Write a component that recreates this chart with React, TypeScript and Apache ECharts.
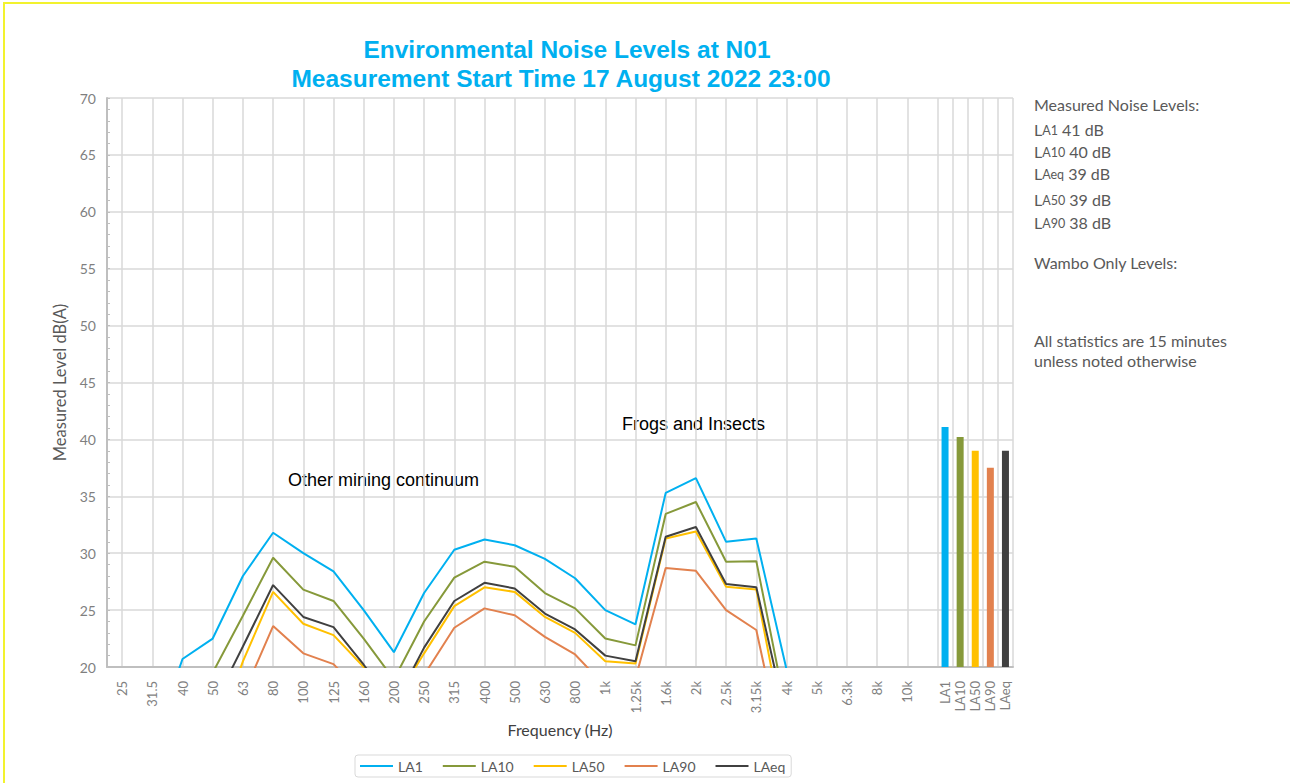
import React, { useEffect, useRef } from "react";
import * as echarts from "echarts";

// ---- data ----
const freqLabels = ["25", "31.5", "40", "50", "63", "80", "100", "125", "160", "200", "250", "315", "400", "500", "630", "800", "1k", "1.25k", "1.6k", "2k", "2.5k", "3.15k", "4k", "5k", "6.3k", "8k", "10k"];
const la1 = [10, 13, 20.7, 22.5, 28.0, 31.8, 30.0, 28.4, 25.0, 21.3, 26.5, 30.3, 31.2, 30.7, 29.5, 27.8, 25.0, 23.75, 35.3, 36.6, 31.0, 31.3, 19.8, 16, 14, 12, 10];
const la10 = [8, 10, 14, 19.5, 24.5, 29.6, 26.8, 25.8, 22.5, 18.9, 24.0, 27.85, 29.25, 28.8, 26.5, 25.15, 22.5, 21.9, 33.45, 34.5, 29.25, 29.3, 16, 14, 12, 10, 8];
const la50 = [5, 7, 9, 13, 20.5, 26.6, 23.8, 22.8, 20.0, 16.9, 21.2, 25.35, 27.0, 26.6, 24.4, 23.0, 20.5, 20.3, 31.3, 31.9, 27.05, 26.8, 13, 11, 9, 7, 5];
const la90 = [3, 5, 7, 11, 17.5, 23.6, 21.2, 20.25, 17.5, 15, 19.3, 23.45, 25.15, 24.55, 22.65, 21.1, 18.3, 19.0, 28.7, 28.45, 25.0, 23.25, 11, 9, 7, 5, 3];
const laeq = [6, 8, 11, 16.5, 21.8, 27.2, 24.4, 23.5, 20.2, 16.6, 21.7, 25.8, 27.4, 26.9, 24.7, 23.3, 21.0, 20.5, 31.45, 32.3, 27.3, 27.0, 15.3, 13, 11, 9, 7];

const barLabels = ["LA1", "LA10", "LA50", "LA90", "LAeq"];
const barValues = [41.1, 40.2, 39.0, 37.5, 39.0];

const seriesNames = ["LA1", "LA10", "LA50", "LA90", "LAeq"];
const colors = ["#00B0F0", "#86993A", "#FFC000", "#E2814E", "#404040"];

const measured = [
  { sub: "A1", val: "41 dB" },
  { sub: "A10", val: "40 dB" },
  { sub: "Aeq", val: "39 dB" },
  { sub: "A50", val: "39 dB" },
  { sub: "A90", val: "38 dB" },
];

const titleLines = ["Environmental Noise Levels at N01", "Measurement Start Time 17 August 2022 23:00"];

const Y_MIN = 20;
const Y_MAX = 70;
const Y_INTERVAL = 5;

const FONT = "Lato, 'Open Sans', sans-serif";
const ARIAL = "'Liberation Sans', Arial, sans-serif";

export default function App() {
  const ref = useRef<HTMLDivElement>(null);

  useEffect(() => {
    if (!ref.current) return;
    const chart = echarts.init(ref.current, null, { renderer: "svg" });

    const fineSlots = 2 * (freqLabels.length + 3); // 60 half-width slots
    const fineCats: string[] = [];
    for (let i = 0; i < fineSlots - barLabels.length; i++) fineCats.push("");
    barLabels.forEach((b) => fineCats.push(b));
    const firstBar = fineSlots - barLabels.length;
    const lastFreqBoundary = 2 * freqLabels.length - 1;

    const coarseCats = freqLabels.concat(["", "", ""]);

    const barData: any[] = [];
    for (let i = 0; i < firstBar; i++) barData.push(null);
    barValues.forEach((v, i) => barData.push({ value: v, itemStyle: { color: colors[i] } }));

    const lineData = [la1, la10, la50, la90, laeq];

    const grey = "#595959";
    const noteX = 1034;
    const noteFont = `16px ${FONT}`;
    const notes: any[] = [
      {
        type: "text",
        x: noteX,
        y: 104,
        style: { text: "Measured Noise Levels:", fill: grey, font: noteFont, textVerticalAlign: "middle" },
      },
    ];
    const noteYs = [127, 149, 171, 197, 220];
    measured.forEach((m, i) => {
      notes.push({
        type: "text",
        x: noteX,
        y: noteYs[i] - 11,
        style: {
          text: `{m|L}{s|${m.sub}}{m| ${m.val}}`,
          fill: grey,
          rich: {
            m: { fontSize: 16, fontFamily: FONT, fill: grey, lineHeight: 21, verticalAlign: "bottom" },
            s: { fontSize: 12.5, fontFamily: FONT, fill: grey, lineHeight: 14, verticalAlign: "bottom" },
          },
        },
      });
    });
    notes.push(
      { type: "text", x: noteX, y: 262, style: { text: "Wambo Only Levels:", fill: grey, font: noteFont, textVerticalAlign: "middle" } },
      { type: "text", x: noteX, y: 340, style: { text: "All statistics are 15 minutes", fill: grey, font: noteFont, textVerticalAlign: "middle" } },
      { type: "text", x: noteX, y: 360, style: { text: "unless noted otherwise", fill: grey, font: noteFont, textVerticalAlign: "middle" } }
    );

    const option: any = {
      animation: false,
      backgroundColor: "#ffffff",
      grid: { left: 107, right: 277, top: 98, bottom: 116, containLabel: false },
      legend: {
        data: seriesNames,
        left: 355,
        top: 755,
        icon: "rect",
        itemWidth: 33,
        itemHeight: 2,
        itemGap: 20,
        padding: [4, 6, 4, 5],
        borderColor: "#d9d9d9",
        borderWidth: 1,
        borderRadius: 3,
        textStyle: { color: grey, fontSize: 14, fontFamily: FONT },
      },
      xAxis: [
        {
          type: "category",
          data: fineCats,
          boundaryGap: true,
          position: "bottom",
          axisLine: { show: true, onZero: false, lineStyle: { color: "#bfbfbf", width: 2 } },
          axisTick: { show: false },
          axisLabel: { interval: 0, rotate: 90, margin: 14, color: "#7f7f7f", fontSize: 13, fontFamily: FONT },
          splitLine: {
            show: true,
            interval: (index: number) => (index % 2 === 1 && index <= lastFreqBoundary) || index >= firstBar,
            lineStyle: { color: "#d9d9d9", width: 1.5 },
          },
        },
        {
          type: "category",
          data: coarseCats,
          boundaryGap: true,
          position: "bottom",
          axisLine: { show: false, onZero: false },
          axisTick: { show: false },
          splitLine: { show: false },
          axisLabel: { interval: 0, rotate: 90, margin: 14, color: "#7f7f7f", fontSize: 13, fontFamily: FONT },
          name: "Frequency (Hz)",
          nameLocation: "middle",
          nameGap: 53,
          nameTextStyle: { color: "#404040", fontSize: 16, fontFamily: FONT },
        },
      ],
      yAxis: {
        type: "value",
        min: Y_MIN,
        max: Y_MAX,
        interval: Y_INTERVAL,
        name: "Measured Level dB(A)",
        nameLocation: "middle",
        nameGap: 38,
        nameTextStyle: { color: grey, fontSize: 16.5, fontFamily: FONT },
        axisLine: { show: true, lineStyle: { color: "#bfbfbf", width: 2 } },
        axisTick: { show: true, inside: true, length: 3, lineStyle: { color: "#bfbfbf" } },
        minorTick: { show: true, splitNumber: 5, length: 3, lineStyle: { color: "#bfbfbf" } },
        axisLabel: { color: "#7f7f7f", fontSize: 14, margin: 11, fontFamily: FONT },
        splitLine: { show: true, lineStyle: { color: "#d9d9d9", width: 1.5 } },
      },
      series: [
        {
          name: "Overall",
          type: "bar",
          xAxisIndex: 0,
          yAxisIndex: 0,
          barWidth: 7,
          clip: true,
          data: barData,
        },
        ...seriesNames.map((n, i) => ({
          name: n,
          type: "line",
          xAxisIndex: 1,
          yAxisIndex: 0,
          data: lineData[i],
          symbol: "none",
          showSymbol: false,
          clip: true,
          lineStyle: { color: colors[i], width: 2 },
          itemStyle: { color: colors[i] },
        })),
      ],
      graphic: [
        {
          type: "text",
          x: 567,
          y: 49,
          style: {
            text: titleLines[0],
            fill: "#00B0F0",
            font: `bold 24.5px ${ARIAL}`,
            textAlign: "center",
            textVerticalAlign: "middle",
          },
        },
        {
          type: "text",
          x: 561,
          y: 78,
          style: {
            text: titleLines[1],
            fill: "#00B0F0",
            font: `bold 24.5px ${ARIAL}`,
            textAlign: "center",
            textVerticalAlign: "middle",
          },
        },
        {
          type: "text",
          x: 288,
          y: 480,
          style: { text: "Other mining continuum", fill: "#000000", font: `18px ${ARIAL}`, textVerticalAlign: "middle" },
        },
        {
          type: "text",
          x: 622,
          y: 424,
          style: { text: "Frogs and Insects", fill: "#000000", font: `18px ${ARIAL}`, textVerticalAlign: "middle" },
        },
        ...notes,
      ],
    };

    chart.setOption(option);
    return () => chart.dispose();
  }, []);

  return (
    <div style={{ position: "fixed", left: 0, top: 0, width: 1290, height: 783, background: "#ffffff" }}>
      <div ref={ref} style={{ width: 1290, height: 783 }} />
      <div
        style={{
          position: "absolute",
          left: 3,
          top: 2,
          right: 0,
          bottom: 0,
          borderLeft: "2px solid #f2f22e",
          borderTop: "2px solid #f2f22e",
          pointerEvents: "none",
        }}
      />
    </div>
  );
}
